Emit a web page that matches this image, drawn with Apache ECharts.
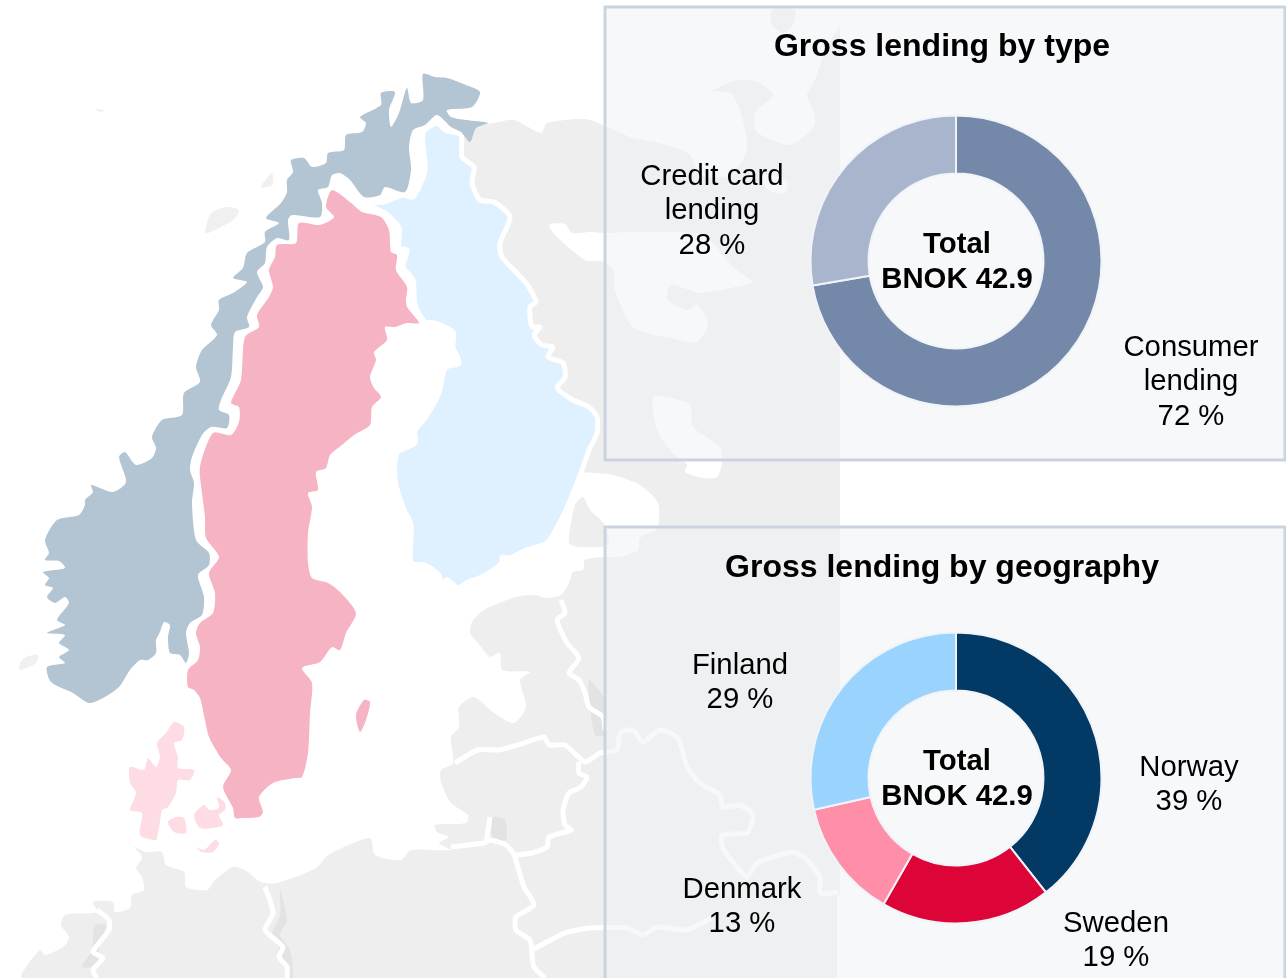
<!DOCTYPE html>
<html>
<head>
<meta charset="utf-8">
<title>Gross lending</title>
<script src="https://cdn.jsdelivr.net/npm/echarts@6/dist/echarts.min.js"></script>
<style>
html, body { margin: 0; background: #fff; }
#main { width: 1286px; height: 978px; }
</style>
</head>
<body>
<div id="main"></div>
<script>
const typeNames = ['Consumer\nlending', 'Credit card\nlending']
const typeValues = [72.3, 27.7]
const typeColors = ['#7489a9', '#a9b4cd']
const typeLabelSpots = [[1191, 382], [712, 211]]

const geoNames = ['Norway', 'Sweden', 'Denmark', 'Finland']
const geoValues = [39.4, 18.9, 13.2, 28.5]
const geoColors = ['#033a65', '#dd0538', '#ff8fa8', '#9ad3fe']
const geoLabelSpots = [[1189, 785], [1116, 941], [742, 907], [740, 683]]

const typeTitle = 'Gross lending by type'
const geoTitle = 'Gross lending by geography'
const centerText = 'Total\nBNOK 42.9'

// backdrop map, traced by hand
const landMain = [[478,125],[494,123],[514,120],[541,133],[547,123],[585,119],[605,126],[633,138],[667,145],[690,155],[700,175],[730,175],[747,150],[740,110],[730,93],[713,91],[737,80],[757,82],[773,95],[755,113],[757,132],[790,145],[813,128],[815,115],[807,95],[815,80],[823,57],[840,27],[860,27],[860,978],[22,978],[22,973],[40,950],[45,955],[63,947],[69,937],[61,925],[65,915],[97,912],[93,902],[113,902],[115,912],[130,908],[132,895],[144,890],[142,877],[136,868],[142,857],[134,847],[146,852],[162,852],[166,865],[184,872],[186,887],[207,890],[215,880],[233,867],[245,870],[261,882],[277,883],[316,868],[328,855],[370,838],[375,855],[401,860],[411,850],[451,850],[439,843],[449,837],[437,832],[435,825],[466,823],[468,815],[451,803],[441,782],[441,770],[453,763],[451,737],[459,727],[459,707],[474,697],[494,713],[514,723],[526,707],[520,680],[530,672],[502,670],[500,653],[490,657],[478,643],[470,633],[472,622],[484,610],[516,597],[536,595],[545,598],[561,595],[569,583],[573,572],[583,570],[585,560],[605,557],[620,557],[638,550],[640,538],[657,528],[658,503],[640,485],[613,475],[593,473],[575,470],[500,300],[455,200],[450,140],[465,125]]
const landPeninsula = [[575,505],[583,497],[590,510],[605,525],[608,545],[579,547],[569,543]]
const landIslet = [[772,10],[795,10],[793,25],[783,33],[772,25]]
const islets = [
  [[20,663],[26,657],[38,655],[36,663],[20,670]],
  [[211,213],[227,207],[239,210],[233,220],[206,233]],
  [[261,187],[272,173],[272,185]],
  [[95,109],[105,110],[100,112]]
]
const lakes = [
  [[549,225],[565,224],[572,233],[590,232],[605,233],[633,232],[700,234],[715,245],[733,267],[752,282],[730,288],[700,293],[690,290],[670,285],[668,300],[687,310],[697,305],[708,323],[697,342],[670,338],[633,327],[615,290],[613,270],[605,262],[585,260],[557,237]],
  [[653,397],[667,397],[690,405],[693,427],[720,447],[722,463],[717,477],[703,478],[685,472],[687,465],[670,450],[657,430]],
  [[760,175],[787,180],[785,193],[768,190]]
]
const darkPatches = [
  [[589,680],[605,700],[605,735],[595,735],[590,705]],
  [[493,817],[505,820],[506,840],[493,838]],
  [[280,890],[287,920],[280,935],[290,950],[293,978],[288,978],[280,950],[272,935],[280,915]],
  [[95,925],[106,925],[100,945],[96,965],[82,967],[92,950]]
]
const borders = [
  [[561,600],[565,613],[557,620],[567,643],[579,658],[569,673],[579,680],[585,693],[589,707],[603,717],[605,730]],
  [[455,763],[478,750],[498,750],[518,745],[544,737],[549,745],[565,745],[585,762],[600,753],[617,750],[620,733],[633,730],[643,742],[660,730],[678,738],[687,767],[700,783],[720,795],[723,807],[740,805],[753,815],[747,833],[722,835],[723,848],[737,867],[747,877],[757,863],[793,852],[807,860],[820,877],[820,893],[838,892]],
  [[579,762],[579,773],[587,777],[581,787],[569,793],[563,810],[565,825],[571,830],[549,837],[547,847],[532,853],[516,855]],
  [[451,847],[484,843],[490,840],[506,845],[514,855],[524,887],[534,905],[516,917],[516,930],[530,940],[532,955],[534,967],[545,978]],
  [[532,950],[547,942],[565,933],[589,928],[627,928],[643,935],[657,927],[687,930],[713,917]],
  [[490,817],[486,843]],
  [[265,887],[273,913],[265,930],[283,947],[279,957],[287,967],[287,978]],
  [[97,910],[109,920],[109,930],[99,943],[93,952],[103,958],[93,970],[97,978]]
]
const norway = [[423,74],[435,77],[447,78],[466,85],[480,92],[472,107],[447,110],[451,117],[466,120],[488,123],[476,128],[470,142],[461,132],[451,127],[437,115],[425,125],[413,130],[409,147],[411,170],[405,192],[385,187],[380,195],[364,197],[350,180],[340,173],[332,175],[328,187],[318,190],[322,203],[320,217],[292,215],[288,220],[289,240],[277,238],[267,247],[265,263],[257,272],[263,287],[257,297],[247,317],[249,327],[235,332],[233,347],[231,377],[221,400],[219,410],[229,415],[227,428],[211,427],[202,435],[192,457],[190,470],[194,483],[192,503],[196,540],[209,553],[209,565],[198,575],[204,597],[202,615],[190,623],[186,633],[189,653],[186,663],[180,655],[170,653],[168,637],[170,625],[164,622],[160,632],[156,640],[156,653],[148,660],[140,660],[130,670],[119,687],[103,698],[89,703],[73,693],[51,682],[47,667],[65,663],[59,657],[69,650],[59,643],[65,635],[47,633],[65,625],[57,620],[69,603],[65,597],[55,603],[47,597],[53,588],[45,585],[49,578],[43,572],[65,568],[59,561],[45,560],[49,553],[45,540],[57,520],[79,515],[85,505],[85,500],[93,492],[91,485],[113,492],[126,482],[119,457],[125,452],[136,465],[152,458],[156,448],[152,437],[162,420],[182,415],[184,393],[200,382],[196,367],[202,350],[217,335],[211,325],[219,310],[219,300],[233,293],[247,282],[233,278],[243,268],[247,253],[265,242],[265,232],[279,223],[266,218],[281,203],[287,192],[287,180],[293,172],[291,160],[304,158],[312,167],[326,163],[328,153],[344,150],[346,135],[362,132],[366,123],[360,117],[381,105],[381,93],[395,92],[389,110],[391,127],[399,113],[407,88],[411,103],[423,100]]
const sweden = [[332,190],[350,202],[362,212],[381,217],[389,230],[391,252],[397,255],[396,270],[407,287],[406,300],[407,307],[419,323],[407,323],[395,327],[385,327],[387,340],[374,352],[376,360],[370,377],[374,388],[381,397],[372,407],[370,425],[354,435],[342,445],[330,455],[326,468],[316,472],[318,490],[308,493],[312,507],[308,533],[308,563],[312,578],[328,583],[340,592],[356,613],[346,633],[340,650],[332,647],[320,662],[302,668],[312,683],[310,713],[308,753],[302,777],[294,778],[273,783],[259,797],[263,812],[259,817],[243,818],[235,818],[233,808],[223,787],[231,770],[221,758],[209,737],[205,720],[200,698],[194,690],[188,687],[188,670],[198,660],[200,647],[196,633],[200,623],[213,613],[215,593],[209,573],[219,557],[206,538],[205,517],[202,493],[200,467],[213,433],[231,435],[239,422],[239,407],[231,403],[241,380],[245,337],[259,327],[257,315],[269,297],[273,287],[269,270],[275,257],[277,245],[296,243],[299,223],[320,225],[334,217],[326,207]]
const gotland = [[364,700],[370,702],[366,720],[360,732],[356,715]]
const finland = [[437,123],[445,130],[461,135],[462,157],[474,167],[472,183],[480,200],[494,202],[510,217],[500,243],[502,257],[526,283],[536,302],[530,307],[532,327],[540,327],[534,335],[542,345],[553,347],[548,357],[563,363],[565,377],[557,388],[573,400],[589,407],[597,417],[597,433],[589,450],[581,473],[569,503],[561,520],[547,543],[526,550],[510,558],[502,557],[502,563],[482,577],[468,582],[458,588],[447,580],[441,585],[439,575],[425,565],[411,563],[411,525],[403,507],[395,480],[397,453],[415,443],[415,430],[425,418],[439,393],[445,368],[459,363],[453,347],[453,332],[435,323],[425,322],[415,305],[413,280],[403,267],[407,250],[399,248],[399,228],[385,213],[364,203],[384,202],[403,195],[413,197],[425,170],[423,133]]
const denmark = [
  [[174,722],[184,727],[182,740],[174,743],[178,757],[178,768],[194,770],[190,780],[178,780],[176,793],[168,807],[162,810],[160,822],[158,833],[156,840],[140,835],[142,813],[130,810],[136,793],[130,783],[130,767],[144,770],[148,758],[156,767],[160,757],[157,743],[166,733]],
  [[168,822],[176,817],[184,818],[186,833],[174,832]],
  [[204,805],[210,810],[219,808],[217,797],[225,803],[225,810],[219,815],[223,825],[213,828],[200,828],[194,815]],
  [[196,847],[204,850],[215,840],[219,843],[213,852],[202,852]]
]

function poly (points, fill, extra) {
  return {
    type: 'polygon',
    silent: true,
    shape: { points: points, smooth: 0.25 },
    style: Object.assign({ fill: fill }, extra || {})
  }
}

function panel (y, h) {
  return {
    type: 'rect',
    silent: true,
    shape: { x: 605, y: y, width: 680, height: h },
    style: { fill: 'rgba(238,241,246,0.53)', stroke: '#cbd3e1', lineWidth: 3 }
  }
}

function blank (x, y, w, h) {
  return { type: 'rect', silent: true, shape: { x: x, y: y, width: w, height: h }, style: { fill: '#ffffff' } }
}

const mapElements = [
  poly(landMain, '#eeeeee'),
  poly(landPeninsula, '#eeeeee'),
  poly(landIslet, '#eeeeee'),
  // the map picture stops here
  blank(840, 0, 446, 978),
  blank(837, 895, 5, 83)
].concat(
  islets.map(v => poly(v, '#f0f0f0')),
  lakes.map(v => poly(v, '#ffffff')),
  darkPatches.map(v => poly(v, '#e3e3e3')),
  borders.map(v => ({
    type: 'polyline',
    silent: true,
    shape: { points: v, smooth: 0.2 },
    style: { stroke: '#ffffff', lineWidth: 5, fill: null }
  })),
  [
    poly(finland, '#dff0ff', { stroke: '#ffffff', lineWidth: 5 }),
    poly(norway, '#b3c4d2'),
    poly(sweden, '#f5b3c4'),
    poly(gotland, '#f5b3c4')
  ],
  denmark.map(v => poly(v, '#fddce4')),
  [panel(7, 453), panel(527, 460)]
)

function donut (names, values, colors, spots, cy) {
  return {
    type: 'pie',
    center: [956, cy],
    radius: [87.5, 145.5],
    startAngle: 90,
    clockwise: true,
    avoidLabelOverlap: false,
    animation: false,
    silent: true,
    itemStyle: { borderColor: '#f0f4f8', borderWidth: 2 },
    label: {
      show: true,
      position: 'outside',
      formatter: p => p.name + '\n' + Math.round(p.value) + ' %',
      fontFamily: 'Liberation Sans',
      fontSize: 29.3,
      lineHeight: 34.5,
      color: '#000'
    },
    labelLine: { show: false },
    labelLayout: p => ({
      x: spots[p.dataIndex][0],
      y: spots[p.dataIndex][1],
      align: 'center',
      verticalAlign: 'middle'
    }),
    data: names.map((n, i) => ({ name: n, value: values[i], itemStyle: { color: colors[i] } }))
  }
}

function heading (text, x, y, size, lh) {
  return {
    text: text,
    left: x,
    top: y,
    textAlign: 'center',
    textVerticalAlign: 'middle',
    padding: 0,
    textStyle: {
      fontFamily: 'Liberation Sans',
      fontWeight: 'bold',
      fontSize: size,
      lineHeight: lh,
      color: '#000'
    }
  }
}

const chart = echarts.init(document.getElementById('main'))
chart.setOption({
  animation: false,
  title: [
    heading(typeTitle, 942, 47, 32, 36),
    heading(geoTitle, 942, 568, 32, 36),
    heading(centerText, 957, 262, 29.3, 35),
    heading(centerText, 957, 779, 29.3, 35)
  ],
  graphic: { elements: mapElements },
  series: [
    donut(typeNames, typeValues, typeColors, typeLabelSpots, 261),
    donut(geoNames, geoValues, geoColors, geoLabelSpots, 778)
  ]
})
</script>
</body>
</html>
